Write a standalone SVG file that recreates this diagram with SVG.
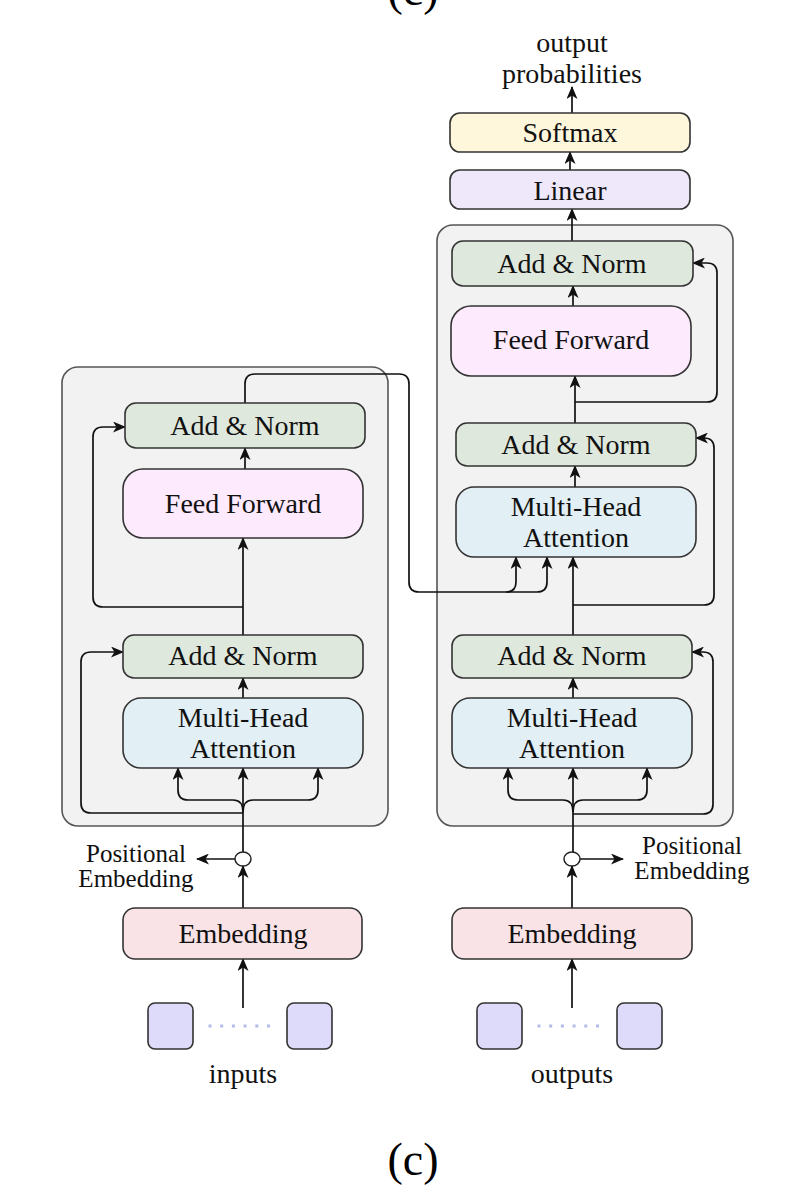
<svg xmlns="http://www.w3.org/2000/svg" width="812" height="1196" viewBox="0 0 812 1196">
<defs>
<marker id="ah" viewBox="0 0 13 11" refX="12" refY="5.5" markerWidth="13" markerHeight="11" markerUnits="userSpaceOnUse" orient="auto">
<path d="M0,0 L13,5.5 L0,11 L3.5,5.5 z" fill="#111"/>
</marker>
<style>
.cont{fill:#f2f2f2;stroke:#555;stroke-width:1.6}
.box{stroke:#333;stroke-width:1.6}
.an{fill:#dfe8dc}
.mha{fill:#e2eff4}
.ff{fill:#fdeafc}
.emb{fill:#fae3e6}
.soft{fill:#fff7db}
.lin{fill:#eee8fa}
.sq{fill:#dddafa;stroke:#333;stroke-width:1.6}
.t{font-family:"Liberation Serif","Times New Roman",serif;font-size:28px;fill:#111;text-anchor:middle}
.s{font-family:"Liberation Serif","Times New Roman",serif;font-size:25px;fill:#111;text-anchor:middle}
.cap{font-family:"Liberation Serif","Times New Roman",serif;font-size:46px;fill:#000;text-anchor:middle}
.ca{fill:none;stroke:#111;stroke-width:1.7;marker-end:url(#ah)}
.dots{stroke:#b3bbe6;stroke-width:3;stroke-dasharray:3 8.7}
</style>
</defs>
<rect width="812" height="1196" fill="#fff"/>

<text class="cap" x="413" y="5">(c)</text>

<g id="encoder-block"><rect class="cont" x="62" y="367" width="326" height="459" rx="16"/></g>
<g id="decoder-block"><rect class="cont" x="437" y="225" width="296" height="601" rx="16"/></g>

<g id="connectors">
<line class="ca" x1="243" y1="1008" x2="243" y2="959"/>
<line class="ca" x1="243" y1="908" x2="243" y2="866"/>
<line class="ca" x1="235" y1="859" x2="197" y2="859"/>
<line class="ca" x1="243" y1="852" x2="243" y2="768"/>
<path class="ca" d="M243,812 Q243,800 233,800 L188,800 Q178,800 178,790 L178,768"/>
<path class="ca" d="M243,812 Q243,800 253,800 L308,800 Q318,800 318,790 L318,768"/>
<path class="ca" d="M243,813 L91,813 Q81,813 81,803 L81,662 Q81,652 91,652 L123,652"/>
<line class="ca" x1="243" y1="698" x2="243" y2="678"/>
<line class="ca" x1="243" y1="635" x2="243" y2="538"/>
<path class="ca" d="M243,607 L103,607 Q93,607 93,597 L93,437 Q93,427 103,427 L125,427"/>
<line class="ca" x1="245" y1="469" x2="245" y2="448"/>
<path class="ca" d="M245,403 L245,384 Q245,374 255,374 L399,374 Q409,374 409,384 L409,582 Q409,592 419,592 L506,592 Q516,592 516,582 L516,557"/>
<path class="ca" d="M506,592 L537,592 Q547,592 547,582 L547,557"/>
<line class="ca" x1="572" y1="1008" x2="572" y2="959"/>
<line class="ca" x1="572" y1="908" x2="572" y2="866"/>
<line class="ca" x1="580" y1="859" x2="623" y2="859"/>
<line class="ca" x1="573" y1="852" x2="573" y2="768"/>
<path class="ca" d="M573,812 Q573,800 563,800 L518,800 Q508,800 508,790 L508,768"/>
<path class="ca" d="M573,812 Q573,800 583,800 L637,800 Q647,800 647,790 L647,768"/>
<path class="ca" d="M573,814 L703,814 Q713,814 713,804 L713,662 Q713,652 703,652 L692,652"/>
<line class="ca" x1="573" y1="698" x2="573" y2="678"/>
<line class="ca" x1="573" y1="635" x2="573" y2="557"/>
<path class="ca" d="M573,605 L704,605 Q714,605 714,595 L714,448 Q714,438 704,438 L696,438"/>
<line class="ca" x1="575" y1="487" x2="575" y2="466"/>
<line class="ca" x1="575" y1="423" x2="575" y2="376"/>
<path class="ca" d="M575,402 L707,402 Q717,402 717,392 L717,273 Q717,263 707,263 L693,263"/>
<line class="ca" x1="573" y1="306" x2="573" y2="286"/>
<line class="ca" x1="572" y1="241" x2="572" y2="209"/>
<line class="ca" x1="570" y1="170" x2="570" y2="152"/>
<line class="ca" x1="572" y1="113" x2="572" y2="87"/>
</g>

<g id="enc-addnorm-2"><rect class="box an" x="125" y="403" width="240" height="45" rx="11"/><text class="t" x="245" y="435">Add &amp; Norm</text></g>
<g id="enc-ff"><rect class="box ff" x="123" y="469" width="240" height="69" rx="20"/><text class="t" x="243" y="513">Feed Forward</text></g>
<g id="enc-addnorm-1"><rect class="box an" x="123" y="635" width="240" height="43" rx="11"/><text class="t" x="243" y="665">Add &amp; Norm</text></g>
<g id="enc-mha"><rect class="box mha" x="123" y="698" width="240" height="70" rx="18"/><text class="t" x="243" y="727">Multi-Head</text><text class="t" x="243" y="758">Attention</text></g>
<g id="enc-embedding"><rect class="box emb" x="123" y="908" width="239" height="51" rx="12"/><text class="t" x="243" y="943">Embedding</text></g>
<g id="enc-pos"><ellipse cx="243" cy="859" rx="8" ry="7" fill="#fff" stroke="#222" stroke-width="1.5"/><text class="s" x="136" y="862">Positional</text><text class="s" x="136" y="887">Embedding</text></g>
<g id="inputs"><rect class="sq" x="148" y="1003" width="45" height="46" rx="7"/><rect class="sq" x="287" y="1003" width="45" height="46" rx="7"/><line class="dots" x1="208.5" y1="1026" x2="272" y2="1026"/><text class="t" x="243" y="1083">inputs</text></g>

<g id="dec-addnorm-3"><rect class="box an" x="452" y="241" width="241" height="45" rx="11"/><text class="t" x="572" y="273">Add &amp; Norm</text></g>
<g id="dec-ff"><rect class="box ff" x="451" y="306" width="240" height="70" rx="20"/><text class="t" x="571" y="349">Feed Forward</text></g>
<g id="dec-addnorm-2"><rect class="box an" x="456" y="423" width="240" height="43" rx="11"/><text class="t" x="576" y="454">Add &amp; Norm</text></g>
<g id="dec-mha-2"><rect class="box mha" x="456" y="487" width="240" height="70" rx="18"/><text class="t" x="576" y="516">Multi-Head</text><text class="t" x="576" y="547">Attention</text></g>
<g id="dec-addnorm-1"><rect class="box an" x="452" y="635" width="240" height="43" rx="11"/><text class="t" x="572" y="665">Add &amp; Norm</text></g>
<g id="dec-mha-1"><rect class="box mha" x="452" y="698" width="240" height="70" rx="18"/><text class="t" x="572" y="727">Multi-Head</text><text class="t" x="572" y="758">Attention</text></g>
<g id="dec-embedding"><rect class="box emb" x="452" y="908" width="240" height="51" rx="12"/><text class="t" x="572" y="943">Embedding</text></g>
<g id="dec-pos"><ellipse cx="572" cy="859" rx="8" ry="7" fill="#fff" stroke="#222" stroke-width="1.5"/><text class="s" x="692" y="854">Positional</text><text class="s" x="692" y="879">Embedding</text></g>
<g id="outputs"><rect class="sq" x="477" y="1003" width="45" height="46" rx="7"/><rect class="sq" x="617" y="1003" width="45" height="46" rx="7"/><line class="dots" x1="537.5" y1="1026" x2="601" y2="1026"/><text class="t" x="572" y="1083">outputs</text></g>

<g id="linear"><rect class="box lin" x="450" y="170" width="240" height="39" rx="10"/><text class="t" x="570" y="200">Linear</text></g>
<g id="softmax"><rect class="box soft" x="450" y="113" width="240" height="39" rx="10"/><text class="t" x="570" y="142">Softmax</text></g>
<g id="output-probs"><text class="t" x="572" y="52">output</text><text class="t" x="572" y="83">probabilities</text></g>

<text class="cap" x="413" y="1175">(c)</text>
</svg>
